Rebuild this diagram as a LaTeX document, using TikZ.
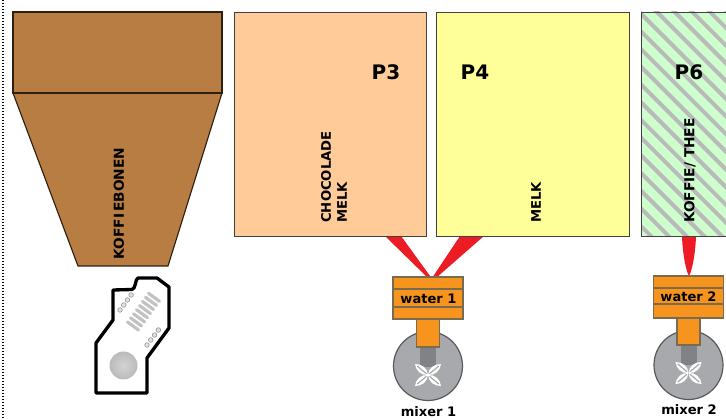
\documentclass[tikz,border=0pt]{standalone}
\usepackage{fontspec}
\setmainfont{DejaVu Sans}
\definecolor{brn}{HTML}{B87D43}
\definecolor{peach}{HTML}{FFCC99}
\definecolor{yel}{HTML}{FFFF99}
\definecolor{mint}{HTML}{CCFFCC}
\definecolor{org}{HTML}{F7941D}
\definecolor{rd}{HTML}{ED1C24}
\definecolor{mixgrey}{HTML}{A7A9AC}
\definecolor{shaft}{HTML}{808285}
\definecolor{edgeg}{HTML}{58595B}
\definecolor{edgeo}{HTML}{7A6A4F}
\tikzset{
 x=0.75pt,y=-0.75pt,
 tank/.style={draw=black!75,line width=0.7pt},
 hop/.style={draw=black!75!brn,line width=0.85pt,fill=brn},
 lbl/.style={font=\bfseries\fontsize{10.3}{12}\selectfont,rotate=90,inner sep=0pt},
 lblsmall/.style={font=\bfseries\fontsize{9.9}{12}\selectfont,rotate=90,inner sep=0pt},
 plabel/.style={font=\bfseries\fontsize{15}{17}\selectfont,inner sep=0pt},
 mixlabel/.style={font=\bfseries\fontsize{9.8}{11}\selectfont,inner sep=0pt},
 pipe/.style={fill=rd,draw=none},
 wbox/.style={draw=edgeo,line width=0.85pt,fill=org},
 mixc/.style={draw=edgeg,line width=0.9pt,fill=mixgrey},
 blade/.style={fill=white,draw=none},
 grip/.style={fill=black!12,draw=black!38,line width=0.5pt}
}
\newcommand{\mixerunit}[7]{%
 \begin{scope}
 \draw[mixc] (#1,#7) circle[radius=34.5];
 \draw[shaft,fill=shaft,line width=0.4pt] (#1-7.5,#6) rectangle (#1+7.5,#6+19);
 \begin{scope}[shift={(#1,#6+28)}]
  \foreach \a in {40,140,220,320}
   \fill[blade,rotate=\a] (0,0) .. controls (5,-5) and (12,-4.5) .. (17,0) .. controls (12,4.5) and (5,5) .. (0,0);
  \foreach \a in {40,140,220,320}
   \draw[mixgrey,line width=0.9pt,rotate=\a] (2,0) -- (14,0);
 \end{scope}
 \draw[wbox] (#1-11.5,#3) rectangle (#1+11.5,#6);
 \draw[wbox] (#1-35,#2) rectangle (#1+35,#3);
 \draw[edgeo,line width=0.85pt] (#1-35,#4) -- (#1+35,#4) (#1-35,#5) -- (#1+35,#5);
 \end{scope}}
\begin{document}
\begin{tikzpicture}
\useasboundingbox (0,0) rectangle (726,420);
\clip (0,0) rectangle (726,420);
\fill[white] (0,0) rectangle (726,420);
% dotted margin
\draw[black,line width=1.3pt,dash pattern=on 1pt off 1.25pt] (3.3,0) -- (3.3,420);
% hopper
\draw[hop] (13,93) -- (222,93) -- (168,266) -- (78,266) -- cycle;
\draw[hop] (13,12) rectangle (222,93);
\node[lbl] (koffiebonen) at (119,203.5) {KOFFI\kern1.5pt EBONEN};
% device
\draw[line width=2.5pt,line join=round,fill=white] (113,290) -- (132,289.5) .. controls (136,289) and (135,279) .. (138,278) -- (157,278) -- (169,287) -- (169,328) -- (147,358) -- (147,393) -- (96,393) -- (96,343) -- (113,320) -- cycle;
\shade[inner color=black!17,outer color=black!27] (123.5,365.5) circle[radius=14];
\foreach \i in {0,...,3} \draw[grip] (120+\i*3.7,310-\i*5) circle[radius=2.3];
\foreach \i in {0,...,3} \draw[grip] (147+\i*3.8,345-\i*5) circle[radius=2.3];
\foreach \i in {0,...,7}
  \draw[black!24,line width=2.4pt,line cap=round] (127.5+\i*3,322-\i*4.1) -- (138.5+\i*3,330-\i*4.1);
% pipes
\fill[pipe] (385,236) -- (401,236) -- (431.5,278) -- (428,278) -- cycle;
\fill[pipe] (460,236) -- (484,236) -- (436,278) -- (432,278) -- cycle;
\fill[pipe] (682,236) .. controls (682.5,252) and (685.5,270) .. (689,276) .. controls (692.5,270) and (695.5,252) .. (696,236) -- cycle;
% tanks
\draw[tank,fill=peach] (234,12) rectangle (426,236);
\draw[tank,fill=yel] (436,12) rectangle (629,236);
\begin{scope}
 \clip (641,12) rectangle (740,236);
 \fill[mint] (641,12) rectangle (740,236);
 \foreach \k in {-30,...,12}
  \draw[black!27,line width=3pt] (645+\k*17.7,0) -- (645+\k*17.7+270,270);
\end{scope}
\draw[tank] (641,12) rectangle (740,236);
\node[plabel] (p3) at (386,72) {P3};
\node[plabel] (p4) at (475,72) {P4};
\node[plabel] (p6) at (689,72) {P6};
\node[lblsmall,anchor=west,align=left] (choco) at (334,223) {CHOCOLADE\\MELK};
\node[lblsmall,anchor=west] (melk) at (536,223) {MELK};
\node[lbl,anchor=west] (thee) at (690,223) {KOFFIE/ THEE};
% mixers
\mixerunit{428}{277}{319}{289}{307}{347}{366}
\mixerunit{688.5}{276}{318}{288}{304}{345}{365}
\node[mixlabel] (water1) at (428.5,298.5) {water 1};
\node[mixlabel] (water2) at (688.5,296.5) {water 2};
\node[mixlabel] (mixer1) at (428.5,412) {mixer 1};
\node[mixlabel] (mixer2) at (689,410) {mixer 2};
\end{tikzpicture}
\end{document}
